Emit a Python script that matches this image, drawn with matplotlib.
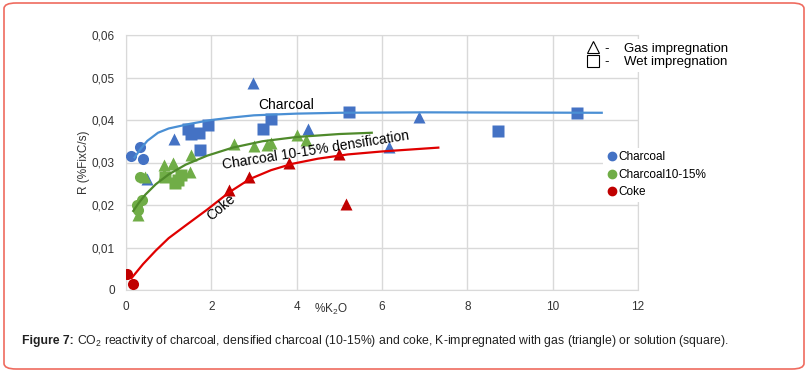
import numpy as np
import matplotlib
matplotlib.use('Agg')
import matplotlib.pyplot as plt
from matplotlib.lines import Line2D
from matplotlib.patches import FancyBboxPatch
from matplotlib import font_manager

plt.rcParams['font.family'] = ['Liberation Sans', 'DejaVu Sans']
plt.rcParams['mathtext.fontset'] = 'custom'
plt.rcParams['mathtext.rm'] = 'Liberation Sans'

# Charcoal (blue)
char_circ_x = [0.12, 0.33, 0.40]
char_circ_y = [0.0315, 0.0336, 0.0308]
char_sq_x = [1.45, 1.52, 1.70, 1.93, 1.73, 3.22, 3.41, 5.23, 8.71, 10.56]
char_sq_y = [0.0378, 0.0368, 0.0369, 0.0388, 0.0330, 0.0380, 0.0402, 0.0418, 0.0375, 0.0416]
char_tri_x = [0.50, 1.12, 2.97, 4.26, 6.17, 6.87]
char_tri_y = [0.0262, 0.0355, 0.0488, 0.0380, 0.0337, 0.0406]
char_fit_x = [0.20, 0.35, 0.50, 0.75, 1.00, 1.50, 2.00, 2.50, 3.00, 4.00, 5.00, 7.00, 11.15]
char_fit_y = [0.0312, 0.0333, 0.0351, 0.0370, 0.0380, 0.0391, 0.0400, 0.0406, 0.0411, 0.0415, 0.0417, 0.0418, 0.0417]

# Charcoal 10-15% (green)
dens_circ_x = [0.33, 0.37, 0.29, 0.25]
dens_circ_y = [0.0265, 0.0212, 0.0188, 0.0200]
dens_sq_x = [0.91, 1.23, 1.15, 1.30]
dens_sq_y = [0.0267, 0.0259, 0.0251, 0.0270]
dens_tri_x = [0.29, 0.45, 0.89, 0.89, 1.11, 1.11, 1.50, 1.52, 2.52, 3.00, 3.31, 3.41, 4.00, 4.21]
dens_tri_y = [0.0176, 0.0267, 0.0274, 0.0293, 0.0296, 0.0300, 0.0278, 0.0318, 0.0344, 0.0339, 0.0341, 0.0347, 0.0365, 0.0353]
dens_fit_x = [0.17, 0.30, 0.45, 0.70, 1.00, 1.40, 1.90, 2.50, 3.20, 4.00, 5.00, 5.76]
dens_fit_y = [0.0186, 0.0205, 0.0224, 0.0249, 0.0272, 0.0295, 0.0316, 0.0335, 0.0350, 0.0360, 0.0367, 0.0370]

# Coke (red)
coke_circ_x = [0.02, 0.17]
coke_circ_y = [0.0038, 0.0014]
coke_tri_x = [2.42, 2.89, 3.83, 5.00, 5.16]
coke_tri_y = [0.0235, 0.0267, 0.0298, 0.0320, 0.0202]
coke_fit_x = [0.13, 0.40, 0.70, 1.00, 1.40, 1.90, 2.42, 2.90, 3.40, 3.90, 4.50, 5.20, 6.00, 7.32]
coke_fit_y = [0.0028, 0.0061, 0.0093, 0.0122, 0.0152, 0.0189, 0.0230, 0.0261, 0.0282, 0.0297, 0.0309, 0.0319, 0.0326, 0.0335]

xticks = [0, 2, 4, 6, 8, 10, 12]
yticks = [0, 0.01, 0.02, 0.03, 0.04, 0.05, 0.06]
ytick_labels = ['0', '0,01', '0,02', '0,03', '0,04', '0,05', '0,06']

blue, green, red = '#4472c4', '#70ad47', '#c00000'
blue_l, green_l, red_l = '#4a8fd4', '#4f8a2b', '#e00000'

fig = plt.figure(figsize=(8.11, 3.71), dpi=100)
ax = fig.add_axes([126 / 811, 81 / 371, 512 / 811, 255 / 371])

ms = 8
for cx, cy, sx, sy, tx, ty, c in [
        (char_circ_x, char_circ_y, char_sq_x, char_sq_y, char_tri_x, char_tri_y, blue),
        (dens_circ_x, dens_circ_y, dens_sq_x, dens_sq_y, dens_tri_x, dens_tri_y, green),
        (coke_circ_x, coke_circ_y, [], [], coke_tri_x, coke_tri_y, red)]:
    ax.plot(cx, cy, 'o', color=c, ms=ms, mec='none', zorder=3)
    ax.plot(sx, sy, 's', color=c, ms=ms + 1, mec='none', zorder=3)
    ax.plot(tx, ty, '^', color=c, ms=ms + 1, mec='none', zorder=3)

ax.plot(char_fit_x, char_fit_y, color=blue_l, lw=1.6, zorder=4, solid_joinstyle='round')
ax.plot(dens_fit_x, dens_fit_y, color=green_l, lw=1.6, zorder=4, solid_joinstyle='round')
ax.plot(coke_fit_x, coke_fit_y, color=red_l, lw=1.6, zorder=4, solid_joinstyle='round')

ax.text(3.75, 0.0435, 'Charcoal', fontsize=10, ha='center', va='center', zorder=5)
ax.text(4.45, 0.0329, 'Charcoal 10-15% densification', fontsize=10, rotation=9,
        ha='center', va='center', rotation_mode='anchor', zorder=5)
ax.text(2.22, 0.0194, 'Coke', fontsize=10, rotation=40,
        ha='center', va='center', rotation_mode='anchor', zorder=5)

ax.set_xlim(0, 12)
ax.set_ylim(0, 0.06)
ax.set_xticks(xticks)
ax.set_yticks(yticks)
ax.set_yticklabels(ytick_labels)
ax.tick_params(length=0, labelsize=8.5, colors='#333333', pad=8)
ax.grid(True, color='#d9d9d9', lw=1)
ax.set_axisbelow(True)
for s in ax.spines.values():
    s.set_color('#d9d9d9')
ax.set_xlabel('%K$_2$O', fontsize=8.5, color='#333333')
ax.xaxis.set_label_coords(0.4, -0.045)
ax.set_ylabel('R (%FixC/s)', fontsize=8.5, color='#333333')
ax.yaxis.set_label_coords(-0.07, 0.5)

# impregnation-type key
h1 = [Line2D([], [], marker='^', ls='none', mfc='white', mec='black', mew=0.8, ms=9),
      Line2D([], [], marker='s', ls='none', mfc='white', mec='black', mew=0.8, ms=8)]
leg1 = fig.legend(h1, ['-    Gas impregnation', '-    Wet impregnation'],
                  loc='upper left', bbox_to_anchor=(575 / 811, 1 - 32 / 371),
                  frameon=True, fontsize=9.5, handletextpad=0.3, labelspacing=0.1,
                  borderpad=0.3, handlelength=1.2)
leg1.get_frame().set_edgecolor('none')
leg1.get_frame().set_alpha(1)

h2 = [Line2D([], [], marker='o', ls='none', color=c, ms=6) for c in (blue, green, red)]
leg2 = fig.legend(h2, ['Charcoal', 'Charcoal10-15%', 'Coke'],
                  loc='upper left', bbox_to_anchor=(597 / 811, 1 - 142 / 371),
                  frameon=True, fontsize=8.5, handletextpad=0.0, labelspacing=0.45,
                  borderpad=0.3, handlelength=1.0)
leg2.get_frame().set_edgecolor('none')
leg2.get_frame().set_alpha(1)

# caption: bold lead-in, then the rest
names = {f.name for f in font_manager.fontManager.ttflist}
cap_font = 'Liberation Sans Narrow' if 'Liberation Sans Narrow' in names else 'Liberation Sans'
cap_size = 10.0 if cap_font == 'Liberation Sans Narrow' else 8.8
cy = 1 - 341 / 371
t1 = fig.text(22 / 811, cy, 'Figure 7:', fontsize=cap_size, family=cap_font,
              weight='bold', color='#222222', va='center', ha='left')
fig.canvas.draw()
bb = t1.get_window_extent()
fig.text((bb.x1 + 3) / 811, cy,
         'CO$_2$ reactivity of charcoal, densified charcoal (10-15%) and coke, '
         'K-impregnated with gas (triangle) or solution (square).',
         fontsize=cap_size, family=cap_font, color='#222222', va='center', ha='left')

border = FancyBboxPatch((4 / 811, 2 / 371), 800 / 811, 366 / 371,
                        boxstyle='round,pad=0,rounding_size=0.015',
                        transform=fig.transFigure, fill=False,
                        edgecolor='#ef6b5f', lw=1.2)
fig.patches.append(border)

fig.savefig('out.png', dpi=100)
